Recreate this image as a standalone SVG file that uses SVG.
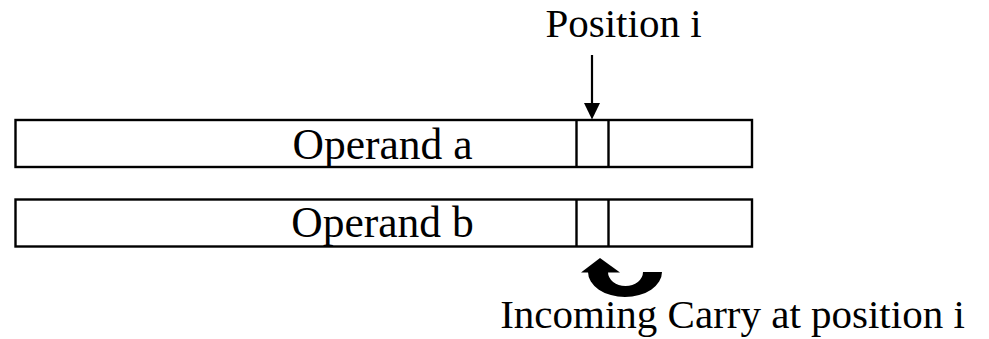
<svg xmlns="http://www.w3.org/2000/svg" width="989" height="339" viewBox="0 0 989 339">
  <style>
    .box { fill: #fff; stroke: #000; stroke-width: 2.4; }
    .cell { fill: none; stroke: #000; stroke-width: 2.4; }
    .lbl { font-family: "Liberation Serif", "Times New Roman", serif; font-size: 41px; fill: #000; }
    .op { font-size: 43.5px; }
    .conn { stroke: #000; stroke-width: 2.2; fill: none; }
  </style>
  <rect width="989" height="339" fill="#fff"/>

  <g id="position-label">
    <text class="lbl" x="623.5" y="37" text-anchor="middle">Position i</text>
  </g>

  <g id="operand-a">
    <rect class="box" x="15.5" y="120" width="736.5" height="47"/>
    <path class="cell" d="M576.5,120 V167 M608.5,120 V167"/>
    <text class="lbl op" x="382.5" y="159" text-anchor="middle">Operand a</text>
  </g>

  <g id="operand-b">
    <rect class="box" x="15.5" y="199.5" width="736.5" height="47"/>
    <path class="cell" d="M576.5,199.5 V246.5 M608.5,199.5 V246.5"/>
    <text class="lbl op" x="382.5" y="237" text-anchor="middle">Operand b</text>
  </g>

  <g id="carry-label">
    <text class="lbl" x="732.5" y="327.5" text-anchor="middle">Incoming Carry at position i</text>
  </g>

  <g id="connectors">
    <!-- pointer down to bit position i -->
    <line class="conn" x1="592" y1="55" x2="592" y2="104"/>
    <path d="M584,103 L600,103 L592,119.5 Z" fill="#000"/>
    <!-- curved carry arrow -->
    <path d="M588,272 A37,25 0 0 0 662,272 L643,272 A17.5,14 0 0 1 608,272 Z" fill="#000"/>
    <path d="M581,272.5 L620,272.5 L600,258 Z" fill="#000"/>
  </g>
</svg>
